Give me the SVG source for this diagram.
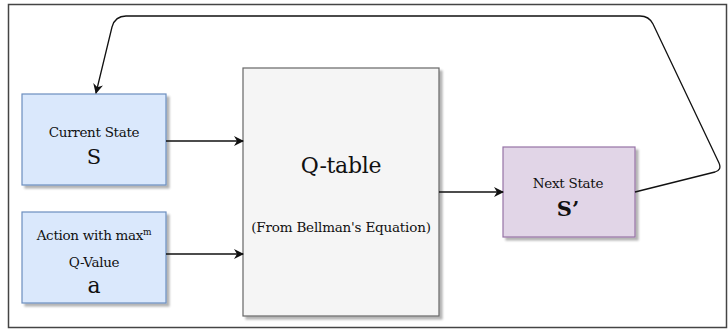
<svg xmlns="http://www.w3.org/2000/svg" width="728" height="329" viewBox="0 0 728 329">
<defs>
<marker id="arr" viewBox="0 0 10 10" refX="9" refY="5" markerWidth="10" markerHeight="10" markerUnits="userSpaceOnUse" orient="auto">
<path d="M0,0 L10,5 L0,10 L3,5 Z" fill="#111"/>
</marker>
<filter id="sh" x="-10%" y="-10%" width="130%" height="130%">
<feGaussianBlur in="SourceAlpha" stdDeviation="1"/>
<feOffset dx="3" dy="3"/>
<feComponentTransfer><feFuncA type="linear" slope="0.3"/></feComponentTransfer>
<feMerge><feMergeNode/><feMergeNode in="SourceGraphic"/></feMerge>
</filter>
</defs>
<style>
.t{font-family:"DejaVu Serif","Liberation Serif",serif;fill:#111;text-anchor:middle}
.blue{fill:#dae8fc;stroke:#6c8ebf;stroke-width:1.2}
.purple{fill:#e1d5e7;stroke:#9673a6;stroke-width:1.2}
.gray{fill:#f5f5f5;stroke:#666;stroke-width:1.2}
.c{fill:none;stroke:#111;stroke-width:1.3}
</style>
<rect x="8.5" y="4.5" width="718" height="323" fill="#fff" stroke="#444" stroke-width="1.5"/>
<g id="current-state">
<rect class="blue" x="22" y="94" width="144" height="91" filter="url(#sh)"/>
<text class="t" x="94" y="137" font-size="13.5" letter-spacing="-0.3">Current State</text>
<text class="t" x="94" y="164" font-size="21">S</text>
</g>
<g id="action">
<rect class="blue" x="22" y="212" width="144" height="91" filter="url(#sh)"/>
<text class="t" x="94" y="240" font-size="13.5" letter-spacing="-0.3">Action with max<tspan font-size="9" dy="-5">m</tspan></text>
<text class="t" x="94" y="267" font-size="13.5" letter-spacing="-0.3">Q-Value</text>
<text class="t" x="94" y="293" font-size="22">a</text>
</g>
<g id="q-table">
<rect class="gray" x="243" y="68" width="196" height="248" filter="url(#sh)"/>
<text class="t" x="341" y="173" font-size="22" letter-spacing="-0.3">Q-table</text>
<text class="t" x="341" y="232" font-size="13.5" letter-spacing="-0.2">(From Bellman's Equation)</text>
</g>
<g id="next-state">
<rect class="purple" x="503" y="147" width="132" height="90" filter="url(#sh)"/>
<text class="t" x="568" y="188" font-size="13.5" letter-spacing="-0.3">Next State</text>
<text class="t" x="568" y="216" font-size="21" font-weight="bold">S’</text>
</g>
<g id="connectors">
<path class="c" d="M166,141 L243,141" marker-end="url(#arr)"/>
<path class="c" d="M166,254 L243,254" marker-end="url(#arr)"/>
<path class="c" d="M439,192 L503,192" marker-end="url(#arr)"/>
<path class="c" d="M635,192 L715,172 Q722,170 719,163 L653,24 Q649,16 640,16 L126,16 Q115,16 112,27 L96,93" marker-end="url(#arr)"/>
</g>
</svg>
